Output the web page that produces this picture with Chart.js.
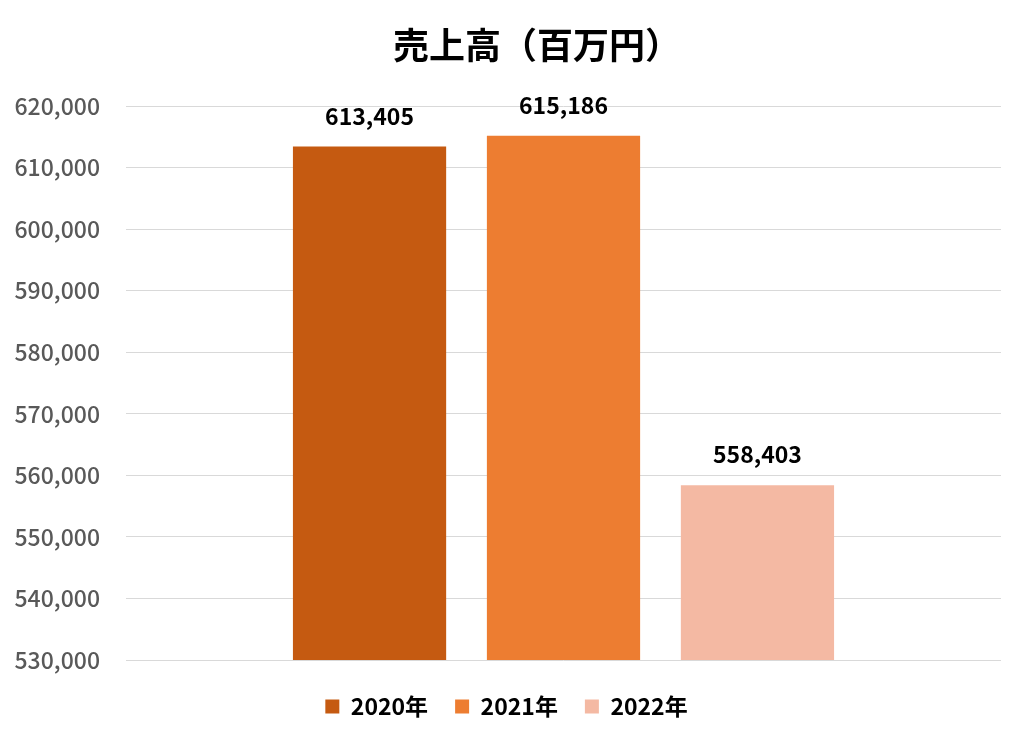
<!DOCTYPE html>
<html lang="ja">
<head>
<meta charset="utf-8">
<script src="https://cdn.jsdelivr.net/npm/chart.js@4"></script>
<style>
  html, body { margin: 0; padding: 0; background: #fff; }
  #wrap { width: 1024px; height: 741px; }
</style>
</head>
<body>
<div id="wrap"><canvas id="salesChart"></canvas></div>
<script>
const chartTitle = '売上高（百万円）';
const years = ['2020年', '2021年', '2022年'];
const sales = [613405, 615186, 558403];
const barColors = ['#c55a11', '#ed7d31', '#f4b9a3'];
const yMin = 530000;
const yMax = 620000;
const yStep = 10000;

const fontFamily = "'Noto Sans CJK JP', 'Noto Sans', sans-serif";

// title drawn by hand so it can sit a little right of centre like the original
const titleText = {
  id: 'titleText',
  afterDraw(chart) {
    const ctx = chart.ctx;
    ctx.save();
    ctx.font = `bold 36px ${fontFamily}`;
    ctx.fillStyle = '#000';
    ctx.textAlign = 'center';
    ctx.textBaseline = 'middle';
    ctx.fillText(chartTitle, 537, 45);
    ctx.restore();
  }
};

// draws the number above each bar
const valueLabels = {
  id: 'valueLabels',
  afterDatasetsDraw(chart) {
    const ctx = chart.ctx;
    ctx.save();
    ctx.font = `bold 23px ${fontFamily}`;
    ctx.fillStyle = '#000';
    ctx.textAlign = 'center';
    ctx.textBaseline = 'bottom';
    chart.data.datasets.forEach((ds, i) => {
      const meta = chart.getDatasetMeta(i);
      meta.data.forEach((bar, j) => {
        ctx.fillText(ds.data[j].toLocaleString('en-US'), bar.x, bar.y - 19);
      });
    });
    ctx.restore();
  }
};

const datasets = years.map((y, i) => ({
  label: y,
  data: [sales[i]],
  backgroundColor: barColors[i],
  categoryPercentage: 0.665,
  barPercentage: 0.79
}));

new Chart(document.getElementById('salesChart'), {
  type: 'bar',
  data: { labels: [''], datasets: datasets },
  options: {
    responsive: true,
    maintainAspectRatio: false,
    animation: false,
    layout: { padding: { top: 106, right: 23, left: 12, bottom: 13 } },
    plugins: {
      title: { display: false },
      legend: {
        position: 'bottom',
        labels: {
          color: '#000',
          font: { family: fontFamily, size: 23, weight: 'bold' },
          boxWidth: 14,
          boxHeight: 14,
          padding: 27
        }
      },
      tooltip: { enabled: false }
    },
    scales: {
      y: {
        min: yMin,
        max: yMax,
        afterFit: scale => { scale.width = 114; },
        ticks: {
          stepSize: yStep,
          color: '#595959',
          font: { family: fontFamily, size: 23, weight: '500' },
          padding: 26,
          callback: v => v.toLocaleString('en-US')
        },
        grid: { color: '#d9d9d9', drawTicks: false },
        border: { display: false }
      },
      x: {
        // empty label row, only used as a spacer above the legend
        afterFit: scale => { scale.height = 8; },
        ticks: { display: true, font: { size: 1 }, padding: 0 },
        grid: { display: false, drawTicks: false },
        border: { display: false }
      }
    }
  },
  plugins: [valueLabels, titleText]
});
</script>
</body>
</html>
